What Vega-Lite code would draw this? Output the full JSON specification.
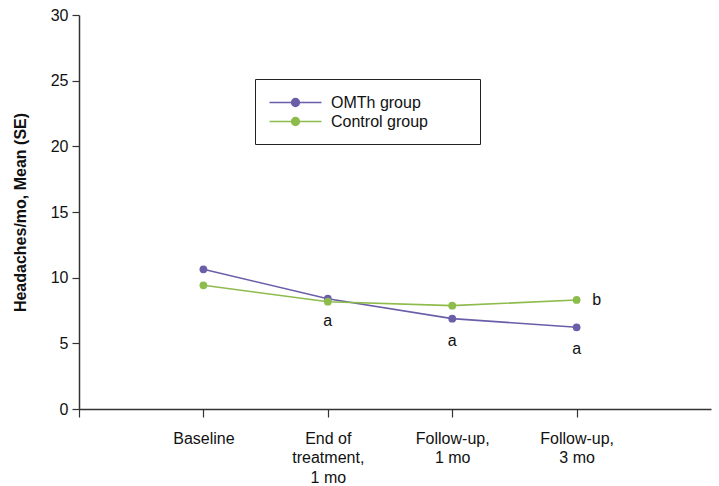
{
  "$schema": "https://vega.github.io/schema/vega-lite/v6.json",
  "width": 632,
  "height": 394,
  "autosize": {"type": "none"},
  "padding": {"left": 79, "top": 15, "right": 8, "bottom": 77},
  "background": "white",
  "config": {
    "view": {"stroke": null},
    "font": "Liberation Sans",
    "axis": {"grid": false, "domainColor": "#333", "tickColor": "#333", "domainWidth": 1.5, "tickWidth": 1.2, "labelColor": "#111", "titleColor": "#111"}
  },
  "data": {
    "values": [
      {"time": "Baseline", "t": 1, "group": "OMTh group", "value": 10.64, "sig": ""},
      {"time": "End of treatment, 1 mo", "t": 2, "group": "OMTh group", "value": 8.40, "sig": "a"},
      {"time": "Follow-up, 1 mo", "t": 3, "group": "OMTh group", "value": 6.88, "sig": "a"},
      {"time": "Follow-up, 3 mo", "t": 4, "group": "OMTh group", "value": 6.22, "sig": "a"},
      {"time": "Baseline", "t": 1, "group": "Control group", "value": 9.42, "sig": ""},
      {"time": "End of treatment, 1 mo", "t": 2, "group": "Control group", "value": 8.17, "sig": ""},
      {"time": "Follow-up, 1 mo", "t": 3, "group": "Control group", "value": 7.87, "sig": ""},
      {"time": "Follow-up, 3 mo", "t": 4, "group": "Control group", "value": 8.30, "sig": "b"}
    ]
  },
  "encoding": {
    "x": {
      "field": "t", "type": "quantitative",
      "scale": {"domain": [0, 5.08], "nice": false, "zero": false},
      "axis": {
        "title": null,
        "values": [0, 1, 2, 3, 4],
        "tickSize": 8,
        "labelPadding": 13,
        "labelFontSize": 16,
        "labelLineHeight": 19.5,
        "labelBaseline": "top",
        "labelExpr": "datum.value == 1 ? 'Baseline' : datum.value == 2 ? ['End of', 'treatment,', '1 mo'] : datum.value == 3 ? ['Follow-up,', '1 mo'] : datum.value == 4 ? ['Follow-up,', '3 mo'] : ''"
      }
    },
    "y": {
      "field": "value", "type": "quantitative",
      "scale": {"domain": [0, 30], "nice": false},
      "axis": {
        "title": "Headaches/mo, Mean (SE)",
        "titleFontSize": 16,
        "titleFontWeight": "bold",
        "titlePadding": 22,
        "values": [0, 5, 10, 15, 20, 25, 30],
        "tickSize": 7,
        "labelPadding": 4,
        "labelFontSize": 16
      }
    },
    "color": {
      "field": "group", "type": "nominal",
      "scale": {"domain": ["OMTh group", "Control group"], "range": ["#6b5ea8", "#8dbb4c"]},
      "legend": {
        "title": null,
        "orient": "none",
        "legendX": 176,
        "legendY": 64,
        "strokeColor": "#222",
        "fillColor": "white",
        "padding": 14,
        "symbolType": "M-3,0L3,0M-0.45,0A0.45,0.45,0,1,0,0.45,0A0.45,0.45,0,1,0,-0.45,0ZM19.3,0L19.3,0",
        "symbolSize": 300,
        "symbolOffset": 17,
        "symbolStrokeWidth": 1.5,
        "rowPadding": 1,
        "labelOffset": 26,
        "labelFontSize": 16,
        "labelColor": "#111",
        "encode": {
          "symbols": {"update": {"fill": {"scale": "color", "field": "value"}, "stroke": {"scale": "color", "field": "value"}, "fillOpacity": {"value": 1}}}
        }
      }
    }
  },
  "layer": [
    {"mark": {"type": "line", "strokeWidth": 1.6}},
    {"mark": {"type": "point", "filled": true, "size": 60, "opacity": 1}},
    {
      "transform": [{"filter": "datum.sig == 'a'"}],
      "mark": {"type": "text", "dy": 22, "fontSize": 16, "color": "#111"},
      "encoding": {"text": {"field": "sig"}, "color": {"value": "#111"}}
    },
    {
      "transform": [{"filter": "datum.sig == 'b'"}],
      "mark": {"type": "text", "dx": 20, "fontSize": 16, "color": "#111"},
      "encoding": {"text": {"field": "sig"}, "color": {"value": "#111"}}
    }
  ]
}
